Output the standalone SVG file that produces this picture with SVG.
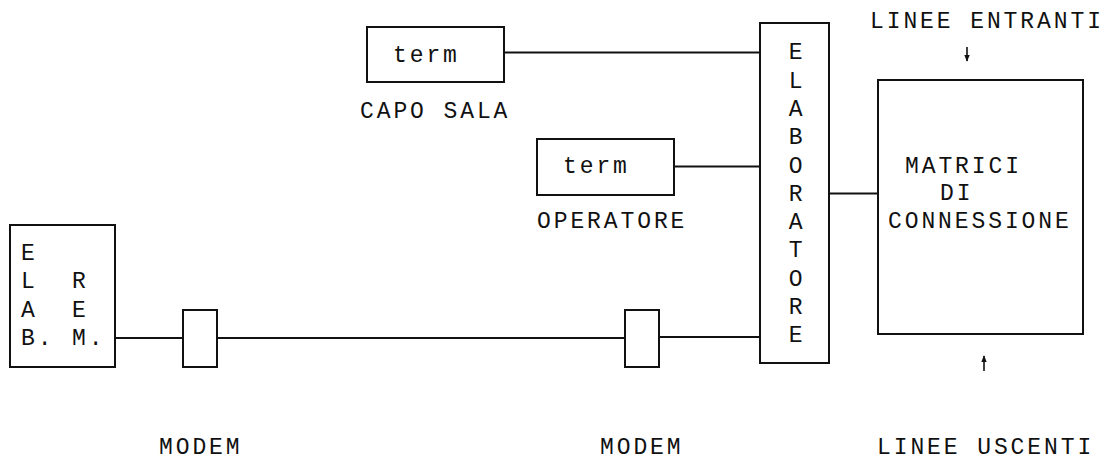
<svg xmlns="http://www.w3.org/2000/svg" width="1111" height="462" viewBox="0 0 1111 462">
<style>
.box{fill:#fff;stroke:#111;stroke-width:2}
.ln{fill:none;stroke:#111;stroke-width:1.8}
.ar{fill:none;stroke:#111;stroke-width:1.6}
text{font-family:"Liberation Mono","Courier New",monospace;font-size:23px;fill:#111;letter-spacing:2.9px}
.c{text-anchor:middle}
</style>
<defs>
<marker id="ah" viewBox="0 0 10 10" refX="9" refY="5" markerWidth="7" markerHeight="7" orient="auto" markerUnits="userSpaceOnUse">
<path d="M0,1 L10,5 L0,9 z" fill="#111"/>
</marker>
</defs>
<rect width="1111" height="462" fill="#fff"/>
<g id="connectors">
<line class="ln" x1="504" y1="52.5" x2="760" y2="52.5"/>
<line class="ln" x1="674" y1="166.5" x2="760" y2="166.5"/>
<line class="ln" x1="829" y1="193.5" x2="878" y2="193.5"/>
<line class="ln" x1="115" y1="338" x2="183" y2="338"/>
<line class="ln" x1="217" y1="338" x2="625" y2="338"/>
<line class="ln" x1="659" y1="337" x2="760" y2="337"/>
<line class="ar" x1="967" y1="47" x2="967" y2="61" marker-end="url(#ah)"/>
<line class="ar" x1="984" y1="371" x2="984" y2="356" marker-end="url(#ah)"/>
</g>
<g id="term-capo">
<rect class="box" x="367" y="27" width="137" height="55"/>
<text x="393" y="62">term</text>
<text x="360" y="118">CAPO SALA</text>
</g>
<g id="term-operatore">
<rect class="box" x="537" y="139" width="137" height="56"/>
<text x="563" y="173">term</text>
<text x="537" y="228">OPERATORE</text>
</g>
<g id="elaboratore">
<rect class="box" x="760" y="23" width="69" height="340"/>
<text class="c" x="797" y="59">E</text>
<text class="c" x="797" y="88">L</text>
<text class="c" x="797" y="116">A</text>
<text class="c" x="797" y="144">B</text>
<text class="c" x="797" y="173">O</text>
<text class="c" x="797" y="201">R</text>
<text class="c" x="797" y="229">A</text>
<text class="c" x="797" y="257">T</text>
<text class="c" x="797" y="286">O</text>
<text class="c" x="797" y="314">R</text>
<text class="c" x="797" y="342">E</text>
</g>
<g id="matrici">
<rect class="box" x="878" y="80" width="205" height="254"/>
<text x="905" y="173">MATRICI</text>
<text x="940" y="200">DI</text>
<text x="888" y="228">CONNESSIONE</text>
<text x="870" y="28">LINEE ENTRANTI</text>
<text x="877" y="454">LINEE USCENTI</text>
</g>
<g id="elab-rem">
<rect class="box" x="10" y="225" width="105" height="142"/>
<text x="21" y="260">E</text>
<text x="21" y="288">L</text>
<text x="72" y="288">R</text>
<text x="21" y="317">A</text>
<text x="72" y="317">E</text>
<text x="21" y="345">B.</text>
<text x="72" y="345">M.</text>
</g>
<g id="modem1">
<rect class="box" x="183" y="310" width="34" height="57"/>
<text x="159" y="454">MODEM</text>
</g>
<g id="modem2">
<rect class="box" x="625" y="310" width="34" height="57"/>
<text x="600" y="454">MODEM</text>
</g>
</svg>
